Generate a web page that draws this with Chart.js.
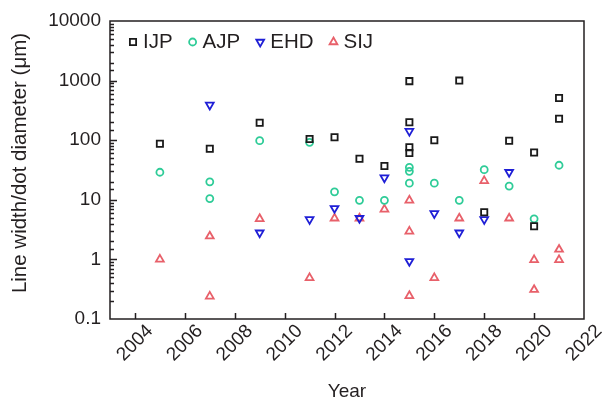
<!DOCTYPE html>
<html>
<head>
    <meta charset="UTF-8">
    <title>Line width vs year</title>
    <style>
        html, body { margin: 0; padding: 0; background: #fff; }
        #wrap { width: 604px; height: 401px; }
    </style>
    <script src="https://cdnjs.cloudflare.com/ajax/libs/Chart.js/4.4.1/chart.umd.min.js"></script>
</head>
<body>
    <div id="wrap"><canvas id="widthChart" width="604" height="401"></canvas></div>

    <script>
        // values (µm)
        const ijpYears = [2005, 2007, 2009, 2011, 2012, 2013, 2014, 2015, 2015, 2015, 2015, 2016, 2017, 2018, 2019, 2020, 2020, 2021, 2021];
        const ijpValues = [87, 72, 196, 105, 112, 49, 37, 980, 200, 76, 61, 100, 1000, 6.2, 98, 62, 3.6, 510, 229];

        const ajpYears = [2005, 2007, 2007, 2009, 2011, 2012, 2013, 2014, 2015, 2015, 2015, 2016, 2017, 2018, 2019, 2020, 2021];
        const ajpValues = [29, 20, 10.5, 98, 92, 13.6, 9.8, 9.8, 35, 30, 19, 19, 9.8, 32, 17, 4.8, 38];

        const ehdYears = [2007, 2009, 2011, 2012, 2013, 2014, 2015, 2015, 2016, 2017, 2018, 2019];
        const ehdValues = [390, 2.8, 4.7, 7.2, 4.9, 23.5, 142, 0.93, 5.9, 2.8, 4.7, 29];

        const sijYears = [2005, 2007, 2007, 2009, 2011, 2012, 2013, 2014, 2015, 2015, 2015, 2016, 2017, 2018, 2019, 2020, 2020, 2021, 2021];
        const sijValues = [1.0, 2.45, 0.24, 4.8, 0.49, 4.9, 4.9, 6.9, 9.8, 2.95, 0.245, 0.49, 4.9, 20.8, 4.9, 0.98, 0.31, 1.47, 0.98];

        const yearTicks = [2004, 2006, 2008, 2010, 2012, 2014, 2016, 2018, 2020, 2022];
        const yTitle = "Line width/dot diameter (μm)";
        const textColor = "#231f20";
        const fontFamily = "'Liberation Sans', Arial, sans-serif";

        function points(xs, ys) {
            return xs.map((x, i) => ({ x: x, y: ys[i] }));
        }
        function isDecade(v) {
            const l = Math.log10(v);
            return Math.abs(l - Math.round(l)) < 1e-6;
        }

        Chart.defaults.font.family = fontFamily;
        Chart.defaults.font.size = 19;
        Chart.defaults.color = textColor;

        // frame, inward ticks, y title and the in-plot legend
        const framePlugin = {
            id: "frame",
            afterDraw(chart) {
                const ctx = chart.ctx;
                const a = chart.chartArea;
                const xs = chart.scales.x, ys = chart.scales.y;
                ctx.save();
                ctx.strokeStyle = textColor;
                ctx.lineWidth = 1.5;
                ctx.beginPath();
                ys.ticks.forEach(t => {
                    const py = Math.round(ys.getPixelForValue(t.value)) + 0.5;
                    if (py <= a.top + 1 || py >= a.bottom - 1) return;
                    const len = isDecade(t.value) ? 7 : 4;
                    ctx.moveTo(a.left, py);
                    ctx.lineTo(a.left + len, py);
                });
                xs.ticks.forEach(t => {
                    const px = Math.round(xs.getPixelForValue(t.value)) + 0.5;
                    if (px <= a.left + 1 || px >= a.right - 1) return;
                    ctx.moveTo(px, a.bottom);
                    ctx.lineTo(px, a.bottom - 6);
                });
                ctx.stroke();
                ctx.strokeRect(a.left, a.top, a.right - a.left, a.bottom - a.top);

                // y title, a little above the plot centre like the original
                ctx.fillStyle = textColor;
                ctx.font = "20.5px " + fontFamily;
                ctx.textAlign = "center";
                ctx.textBaseline = "middle";
                ctx.save();
                ctx.translate(20, (a.top + a.bottom) / 2 - 7);
                ctx.rotate(-Math.PI / 2);
                ctx.fillText(yTitle, 0, 0);
                ctx.restore();

                // legend row
                ctx.textAlign = "left";
                let cx = a.left + 23;
                const cy = a.top + 21;
                chart.data.datasets.forEach(ds => {
                    ctx.strokeStyle = ds.borderColor;
                    ctx.fillStyle = "rgba(0,0,0,0)";
                    ctx.lineWidth = ds.borderWidth;
                    Chart.helpers.drawPoint(ctx, {
                        pointStyle: ds.pointStyle,
                        radius: ds.pointRadius,
                        rotation: ds.pointRotation || 0,
                        borderWidth: ds.borderWidth
                    }, cx, cy);
                    ctx.fillStyle = textColor;
                    ctx.fillText(ds.label, cx + 10, cy);
                    cx += 10 + ctx.measureText(ds.label).width + 20;
                });
                ctx.restore();
            }
        };

        function series(label, xs, ys, color, style, radius, rotation) {
            return {
                label: label,
                data: points(xs, ys),
                borderColor: color,
                backgroundColor: "rgba(0,0,0,0)",
                borderWidth: 1.8,
                pointStyle: style,
                pointRadius: radius,
                pointHoverRadius: radius,
                pointRotation: rotation,
                showLine: false
            };
        }

        const ctx = document.getElementById("widthChart").getContext("2d");
        const widthChart = new Chart(ctx, {
            type: "scatter",
            data: {
                datasets: [
                    series("IJP", ijpYears, ijpValues, "#1a1a1a", "rect", 4.4, 0),
                    series("AJP", ajpYears, ajpValues, "#2fcc98", "circle", 3.5, 0),
                    series("EHD", ehdYears, ehdValues, "#1f1fd6", "triangle", 4.5, 180),
                    series("SIJ", sijYears, sijValues, "#e8606a", "triangle", 4.5, 0),
                ],
            },
            options: {
                responsive: false,
                animation: false,
                layout: { padding: { left: 0, top: 21, right: 20, bottom: 0 } },
                plugins: {
                    legend: { display: false },
                    tooltip: { enabled: false },
                },
                scales: {
                    x: {
                        type: "linear",
                        min: 2003,
                        max: 2022,
                        afterBuildTicks: scale => { scale.ticks = yearTicks.map(v => ({ value: v })); },
                        afterFit: scale => { scale.height = 82; },
                        grid: { display: false, drawTicks: false },
                        border: { display: false },
                        ticks: {
                            autoSkip: false,
                            minRotation: 45,
                            maxRotation: 45,
                            padding: 1,
                            labelOffset: 15,
                            callback: v => String(v),
                        },
                        title: { display: true, text: "Year", padding: { top: 0, bottom: -2 } },
                    },
                    y: {
                        type: "logarithmic",
                        min: 0.1,
                        max: 10000,
                        afterFit: scale => { scale.width = 110; },
                        grid: { display: false, drawTicks: false },
                        border: { display: false },
                        ticks: {
                            autoSkip: false,
                            padding: 9,
                            callback: v => isDecade(v) ? String(+v.toPrecision(6)) : "",
                        },
                        title: { display: false },
                    },
                },
            },
            plugins: [framePlugin],
        });
    </script>
</body>
</html>
